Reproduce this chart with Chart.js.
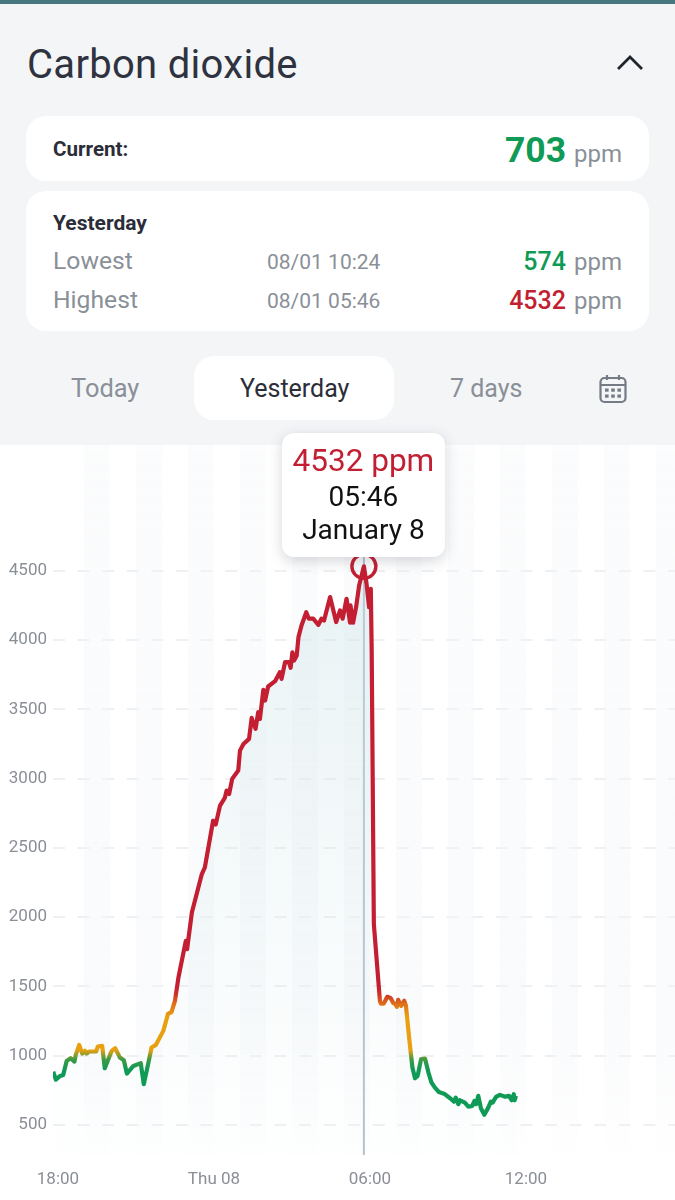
<!DOCTYPE html>
<html><head><meta charset="utf-8">
<style>
html,body{margin:0;padding:0;background:#f3f5f7;width:675px;height:1200px;overflow:hidden;font-family:Roboto,sans-serif}
.a{position:absolute;white-space:nowrap;line-height:1}
.card{position:absolute;background:#fff;border-radius:20px;left:26px;width:623px}
.g{color:#8a9098}
#chartWrap{position:absolute;left:0;top:445px;width:675px;height:755px;background:#fff}
#tip{position:absolute;top:433px;width:163px;height:124px;background:#fff;border-radius:12px;box-shadow:0 4px 14px rgba(60,70,80,.22);text-align:center;color:#111}
#tip div{position:absolute;left:0;right:0;line-height:1}
</style></head><body>
<div style="position:absolute;left:0;top:0;width:675px;height:4px;background:#47787f"></div>
<div class="a" id="title" style="left:27px;top:45px;font-size:40px;color:#2f323f;letter-spacing:.3px">Carbon dioxide</div>
<svg class="a" style="left:615px;top:52px" width="30" height="20"><path d="M3 17 L15 5 L27 17" fill="none" stroke="#22242c" stroke-width="2.8"/></svg>
<div class="card" style="top:116px;height:65px"></div>
<div class="a" style="left:53px;top:139px;font-size:20.6px;font-weight:700;color:#2b2e38">Current:</div>
<div class="a" style="right:109px;top:133px;font-size:35.5px;font-weight:700;color:#0f9a55">703</div>
<div class="a g" style="right:53px;top:142px;font-size:24px">ppm</div>
<div class="card" style="top:191px;height:140px"></div>
<div class="a" style="left:53px;top:213px;font-size:21px;font-weight:700;color:#2b2e38">Yesterday</div>
<div class="a g" style="left:53px;top:249px;font-size:24.7px">Lowest</div>
<div class="a g" style="left:267px;top:252px;font-size:21px">08/01 10:24</div>
<div class="a" style="right:109px;top:249px;font-size:25px;font-weight:500;color:#0f9a55">574</div>
<div class="a g" style="right:53px;top:250px;font-size:24px">ppm</div>
<div class="a g" style="left:53px;top:288px;font-size:24.7px">Highest</div>
<div class="a g" style="left:267px;top:291px;font-size:21px">08/01 05:46</div>
<div class="a" style="right:109px;top:288px;font-size:25px;font-weight:500;color:#c21f33">4532</div>
<div class="a g" style="right:53px;top:289px;font-size:24px">ppm</div>
<div class="a g" style="left:71px;top:376px;font-size:25.4px">Today</div>
<div style="position:absolute;left:194px;top:356px;width:200px;height:64px;background:#fff;border-radius:20px"></div>
<div class="a" style="left:240px;top:376px;font-size:25px;color:#2b2e38">Yesterday</div>
<div class="a g" style="left:450px;top:376px;font-size:25px">7 days</div>
<svg class="a" style="left:598px;top:373px" width="30" height="31" fill="none" stroke="#747b84" stroke-width="2.2">
<rect x="2.5" y="5" width="25" height="24" rx="4"/><path d="M2.5 12 H27.5 M9 2 V7 M21 2 V7"/>
<g fill="#747b84" stroke="none"><rect x="7" y="15.5" width="3.6" height="3.2"/><rect x="13.2" y="15.5" width="3.6" height="3.2"/><rect x="19.4" y="15.5" width="3.6" height="3.2"/><rect x="7" y="21.5" width="3.6" height="3.2"/><rect x="13.2" y="21.5" width="3.6" height="3.2"/><rect x="19.4" y="21.5" width="3.6" height="3.2"/></g></svg>
<div id="chartWrap"><canvas id="c" width="675" height="755" style="display:block;width:675px;height:755px"></canvas></div>
<div id="tip">
<div style="top:12px;font-size:31.5px;color:#c21f33">4532 ppm</div>
<div style="top:50px;font-size:28px">05:46</div>
<div style="top:83px;font-size:28px">January 8</div>
</div>
<script src="https://cdn.jsdelivr.net/npm/chart.js@4"></script>
<script>
// minutes after 18:00 on January 7
const minutes=[-11,-5,5,12,20,29,38,41,49,56,62,66,72,88,92,102,108,124,132,143,152,159,174,191,198,208,216,226,243,254,262,270,278,295,298,309,332,339,358,364,374,385,389,395,402,416,420,428,441,447,456,462,466,474,478,485,501,512,516,524,533,537,541,545,551,555,562,573,579,589,601,608,614,628,642,651,657,666,674,675,681,688,695,706,712,718,722,724,729,743,745,752,760,768,774,779,782,785,792,799,803,812,818,824,830,838,847,855,862,870,879,891,905,914,918,924,928,939,947,956,961,965,970,976,984,993,999,1003,1011,1020,1032,1041,1047,1052,1054,1057];
const ppm=[885,827,854,861,962,982,957,1006,1078,1015,1035,1015,1030,1030,1066,1071,910,1035,1054,986,967,871,926,946,794,939,1059,1078,1179,1302,1315,1396,1564,1829,1769,2034,2311,2359,2696,2668,2805,2860,2913,2889,2998,3058,3202,3250,3287,3438,3359,3479,3431,3641,3563,3665,3703,3768,3720,3840,3840,3800,3912,3852,3888,4021,4105,4201,4154,4154,4110,4154,4141,4310,4130,4214,4154,4298,4125,4250,4125,4237,4394,4532,4409,4237,4370,3925,1950,1396,1376,1376,1425,1415,1379,1372,1353,1403,1360,1396,1360,1083,914,837,854,975,979,878,806,769,738,726,693,668,697,650,678,661,632,637,673,650,710,621,574,625,668,661,702,717,704,710,678,722,678,710];
const yTicks=[500,1000,1500,2000,2500,3000,3500,4000,4500];
const xTickMinutes=[0,360,720,1080];
const xTickLabels=['18:00','Thu 08','06:00','12:00'];
const peakMinute=706, peakValue=4532, cursorTop=4600;
const bandStarts=[60,180,300,420,540,660,780,900,1020,1140,1260,1380];

const bands={id:'bands',beforeDatasetsDraw(ch){
  const {ctx,chartArea:a,scales:{x}}=ch;
  const g=ctx.createLinearGradient(0,0,0,a.bottom);
  g.addColorStop(0,'rgba(243,245,248,.3)');g.addColorStop(.8,'rgba(243,245,248,.45)');g.addColorStop(1,'rgba(243,245,248,.05)');
  ctx.save();ctx.fillStyle=g;
  for(const s of bandStarts){const l=x.getPixelForValue(s),r=x.getPixelForValue(s+60);ctx.fillRect(l,0,r-l,a.bottom);}
  ctx.restore();
}};
const placeTip={id:'placeTip',afterDraw(ch){
  const t=document.getElementById('tip');
  t.style.left=(ch.scales.x.getPixelForValue(peakMinute)-82)+'px';
}};
function lineGrad(c){
  const ch=c.chart,y=ch.scales.y;
  if(!y||!Number.isFinite(y.getPixelForValue(1000))) return '#c21f33';
  const p=v=>y.getPixelForValue(v);
  const top=p(1500),bot=p(900);
  const g=ch.ctx.createLinearGradient(0,top,0,bot);
  const st=v=>(p(v)-top)/(bot-top);
  g.addColorStop(0,'#c41e33');
  g.addColorStop(st(1440),'#cf3328');
  g.addColorStop(st(1370),'#e0721a');
  g.addColorStop(st(1280),'#e9a010');
  g.addColorStop(st(1040),'#e9a010');
  g.addColorStop(st(975),'#3f9a45');
  g.addColorStop(1,'#0f9a55');
  return g;
}
function fillGrad(c){
  const ch=c.chart,a=ch.chartArea,y=ch.scales.y;
  if(!a||!y||!Number.isFinite(y.getPixelForValue(4300))) return 'transparent';
  const g=ch.ctx.createLinearGradient(0,y.getPixelForValue(4300),0,a.bottom);
  g.addColorStop(0,'rgba(195,222,226,.36)');
  g.addColorStop(.55,'rgba(205,228,232,.18)');
  g.addColorStop(1,'rgba(225,238,240,.03)');
  return g;
}
new Chart(document.getElementById('c'),{
  type:'line',
  data:{datasets:[
    {data:minutes.map((m,i)=>({x:m,y:ppm[i]})),order:1,borderColor:lineGrad,backgroundColor:fillGrad,fill:'start',borderWidth:4.2,tension:0,borderJoinStyle:'round',
     pointRadius:c=>c.raw&&c.raw.y===peakValue?12:0,pointHoverRadius:0,pointBackgroundColor:'transparent',pointBorderColor:'#c21f33',pointBorderWidth:3.4},
    {data:[{x:peakMinute,y:283},{x:peakMinute,y:cursorTop}],order:2,borderColor:'#b4c0cd',borderWidth:2,pointRadius:0,fill:false}
  ]},
  options:{
    responsive:false,animation:false,devicePixelRatio:1,
    layout:{padding:{top:5,left:0,right:0,bottom:0}},
    plugins:{legend:{display:false},tooltip:{enabled:false}},
    events:[],
    scales:{
      x:{type:'linear',min:-11.5,max:1424,
        grid:{display:false},border:{display:false},
        afterFit(s){s.height=45},
        afterBuildTicks(s){s.ticks=xTickMinutes.map(v=>({value:v}))},
        ticks:{autoSkip:false,maxRotation:0,padding:7,color:'#8a8f96',font:{family:'Roboto',size:17},callback:v=>xTickLabels[xTickMinutes.indexOf(v)]}},
      y:{type:'linear',min:283,max:5291,
        border:{display:false,dash:[12,12.6]},
        grid:{color:'#eff0f2',lineWidth:2,drawTicks:false},
        afterFit(s){s.width=53},
        afterBuildTicks(s){s.ticks=yTicks.map(v=>({value:v}))},
        ticks:{padding:6,color:'#8a8f96',font:{family:'Roboto',size:17},callback:v=>String(v)}}
    }
  },
  plugins:[bands,placeTip]
});
</script>
</body></html>
